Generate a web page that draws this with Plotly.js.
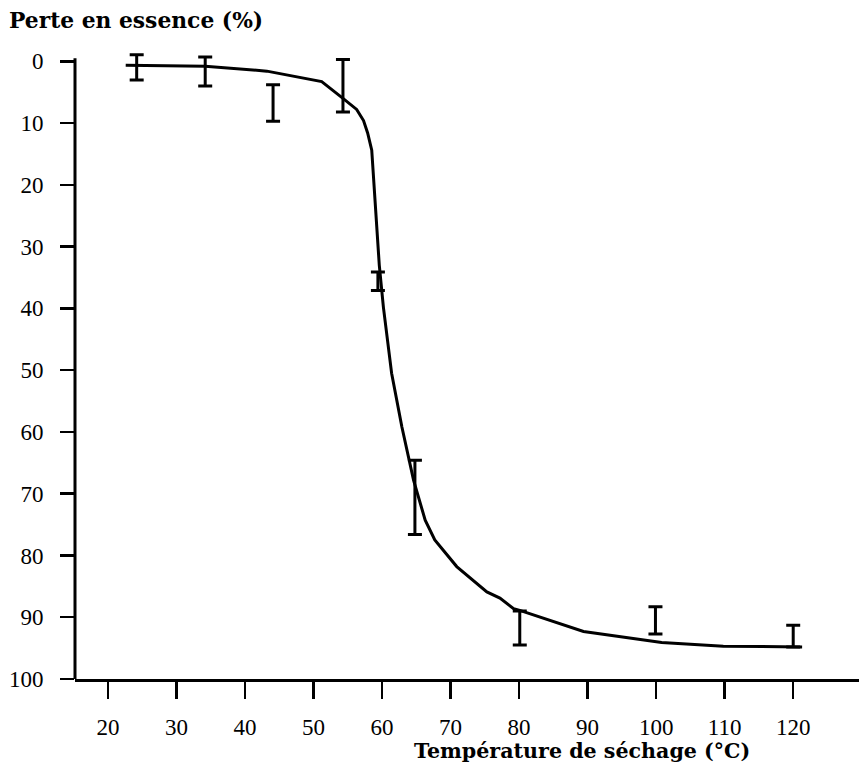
<!DOCTYPE html>
<html>
<head>
<meta charset="utf-8">
<script src="https://cdn.plot.ly/plotly-3.0.1.min.js"></script>
<style>html,body{margin:0;padding:0;background:#fff;}#chart{width:859px;height:772px;}</style>
</head>
<body>
<div id="chart"></div>
<script>
// Fitted curve (temperature °C, essence loss %)
const curveTemp = [22.6, 34.2, 43.2, 51.2, 54.3, 56.3, 57.3, 57.9, 58.5, 59.2, 59.6, 60.2, 61.4, 62.9, 64.6, 66.3, 67.7, 70.9, 75.3, 77.2, 79.2, 80.1, 89.4, 100.8, 109.8, 121.3];
const curveLoss = [0.65, 0.8, 1.6, 3.3, 6.0, 7.8, 9.6, 11.6, 14.4, 27.0, 33.0, 39.8, 50.5, 59.2, 67.8, 74.3, 77.5, 81.8, 85.9, 86.9, 88.6, 88.9, 92.3, 94.1, 94.7, 94.8];

// Measured points with error bars
const measTemp = [24.2, 34.2, 44.1, 54.3, 59.4, 64.8, 80.1, 99.9, 120.0];
const measLoss = [1.0, 1.65, 6.75, 3.95, 35.6, 70.6, 91.75, 90.5, 93.05];
const measErr  = [2.05, 2.35, 2.95, 4.25, 1.5, 6.0, 2.75, 2.2, 1.75];

const xTicks = [20, 30, 40, 50, 60, 70, 80, 90, 100, 110, 120];
const yTicks = [0, 10, 20, 30, 40, 50, 60, 70, 80, 90, 100];

const tickFont = {family: 'Liberation Serif, Times New Roman, serif', size: 23, color: '#000'};
const yTitleFont = {family: 'DejaVu Serif, serif', size: 21.8, color: '#000', weight: 'bold'};
const xTitleFont = {family: 'DejaVu Serif, serif', size: 20.6, color: '#000', weight: 'bold'};

const traces = [
  {
    x: curveTemp, y: curveLoss, type: 'scatter', mode: 'lines',
    line: {color: '#000', width: 3, shape: 'linear'},
    hoverinfo: 'skip', showlegend: false
  },
  {
    x: measTemp, y: measLoss, type: 'scatter', mode: 'markers',
    marker: {size: 1, color: 'rgba(0,0,0,0)'},
    error_y: {type: 'data', array: measErr, visible: true, color: '#000', thickness: 3, width: 7},
    hoverinfo: 'skip', showlegend: false
  }
];

const layout = {
  width: 859, height: 772,
  margin: {l: 75, r: 0, t: 52, b: 93, pad: 0},
  paper_bgcolor: '#fff', plot_bgcolor: '#fff',
  showlegend: false,
  xaxis: {
    range: [15.2, 129.6], tickvals: xTicks, ticktext: xTicks.map(String),
    ticks: 'outside', ticklen: 17, tickwidth: 2.5, tickcolor: '#000',
    showline: true, linecolor: '#000', linewidth: 3,
    showgrid: false, zeroline: false, tickfont: tickFont,
    ticklabelstandoff: 8
  },
  yaxis: {
    range: [100, -1.5], tickvals: yTicks, ticktext: yTicks.map(String),
    ticks: 'outside', ticklen: 14, tickwidth: 2.5, tickcolor: '#000',
    showline: false, showgrid: false, zeroline: false, tickfont: tickFont,
    ticklabelstandoff: 12
  },
  shapes: [
    {type: 'line', xref: 'paper', yref: 'y', x0: 0, x1: 0, y0: -0.5, y1: 100, line: {color: '#000', width: 3}}
  ],
  annotations: [
    {text: 'Perte en essence (%)', xref: 'paper', yref: 'paper', x: (7 - 75) / 784, y: (679 - 20) / 627,
     xanchor: 'left', yanchor: 'middle', showarrow: false, font: yTitleFont},
    {text: 'Température de séchage (°C)', xref: 'paper', yref: 'paper', x: (752 - 75) / 784, y: (679 - 751) / 627,
     xanchor: 'right', yanchor: 'middle', showarrow: false, font: xTitleFont}
  ]
};

Plotly.newPlot('chart', traces, layout, {displayModeBar: false, staticPlot: true});
</script>
</body>
</html>
